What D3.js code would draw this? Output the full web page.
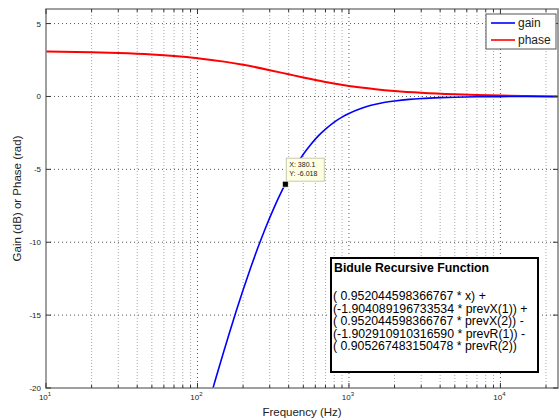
<!DOCTYPE html>
<html><head><meta charset="utf-8">
<script src="https://cdn.jsdelivr.net/npm/d3@7"></script>
<style>html,body{margin:0;padding:0;background:#fff;}svg{display:block;font-family:"Liberation Sans",Arial,sans-serif;}</style>
</head><body>
<svg id="c" width="560" height="419"></svg>
<script>
// Gain curve (dB)
const gainFreq = [120,125,130,140,150,160,180,200,225,250,280,320,360,380.1,400,450,500,560,630,710,800,900,1000,1200,1400,1700,2000,2500,3000,4000,5000,7000,10000,15000,24000];
const gainDb = [-20.85,-20.21,-19.59,-18.45,-17.41,-16.45,-14.74,-13.28,-11.72,-10.40,-9.07,-7.64,-6.50,-6.018,-5.59,-4.67,-3.96,-3.29,-2.69,-2.19,-1.76,-1.42,-1.17,-0.83,-0.61,-0.42,-0.31,-0.20,-0.14,-0.08,-0.05,-0.02,-0.01,0,0];
// Phase curve (rad)
const phaseFreq = [10,20,30,50,70,100,150,200,300,400,500,700,1000,1200,1500,2000,3000,5000,7000,10000,15000,24000];
const phaseRad = [3.089,3.036,2.984,2.880,2.777,2.627,2.390,2.173,1.805,1.520,1.299,0.994,0.725,0.612,0.495,0.374,0.249,0.146,0.101,0.065,0.033,0];
const xMajor = [10,100,1000,10000];
const xMajorExp = ["1","2","3","4"];
const yTicks = [-20,-15,-10,-5,0,5];
const seriesNames = ["gain","phase"];
const datatip = {x:380.1, y:-6.018, lx:"X: 380.1", ly:"Y: -6.018"};
const boxLines = ["( 0.952044598366767 * x) +","(-1.904089196733534 * prevX(1)) +","( 0.952044598366767 * prevX(2)) -","(-1.902910910316590 * prevR(1)) -","( 0.905267483150478 * prevR(2))"];
const boxTitle = "Bidule Recursive Function";

const svg = d3.select("#c");
const L=46,R=558,T=9,B=388;
const x = d3.scaleLog().domain([10,24000]).range([L,R]);
const y = d3.scaleLinear().domain([-20,6]).range([B,T]);

const minor=[];
for(let d=10; d<=10000; d*=10){ for(let k=2;k<=9;k++){ const v=d*k; if(v<=24000) minor.push(v);} }

const g = svg.append("g");
g.selectAll(".gm").data(minor).join("line")
 .attr("x1",d=>x(d)).attr("x2",d=>x(d)).attr("y1",T).attr("y2",B)
 .attr("stroke","#a8a8a8").attr("stroke-width",1).attr("stroke-dasharray","1,2");
g.selectAll(".gM").data(xMajor.slice(1)).join("line")
 .attr("x1",d=>x(d)).attr("x2",d=>x(d)).attr("y1",T).attr("y2",B)
 .attr("stroke","#555").attr("stroke-width",1).attr("stroke-dasharray","1,3");
g.selectAll(".gy").data(yTicks.slice(1)).join("line")
 .attr("x1",L).attr("x2",R).attr("y1",d=>y(d)).attr("y2",d=>y(d))
 .attr("stroke","#555").attr("stroke-width",1).attr("stroke-dasharray","1,3");

svg.append("clipPath").attr("id","cp").append("rect").attr("x",L).attr("y",T).attr("width",R-L).attr("height",B-T);

const line = d3.line().x(d=>x(d[0])).y(d=>y(d[1])).curve(d3.curveMonotoneX);
const lg = svg.append("g").attr("clip-path","url(#cp)");
lg.append("path").attr("d",line(phaseFreq.map((f,i)=>[f,phaseRad[i]])))
 .attr("fill","none").attr("stroke","#ff0000").attr("stroke-width",2);
lg.append("path").attr("d",line(gainFreq.map((f,i)=>[f,gainDb[i]])))
 .attr("fill","none").attr("stroke","#0000ff").attr("stroke-width",1.6);

svg.append("rect").attr("x",L).attr("y",T).attr("width",R-L).attr("height",B-T)
 .attr("fill","none").attr("stroke","#808080").attr("stroke-width",1.5);

const tk = svg.append("g").attr("stroke","#333").attr("stroke-width",1);
xMajor.forEach(v=>{ tk.append("line").attr("x1",x(v)).attr("x2",x(v)).attr("y1",B).attr("y2",B-5);
 tk.append("line").attr("x1",x(v)).attr("x2",x(v)).attr("y1",T).attr("y2",T+5);});
minor.forEach(v=>{ tk.append("line").attr("x1",x(v)).attr("x2",x(v)).attr("y1",B).attr("y2",B-3);
 tk.append("line").attr("x1",x(v)).attr("x2",x(v)).attr("y1",T).attr("y2",T+3);});
yTicks.forEach(v=>{ tk.append("line").attr("x1",L).attr("x2",L+5).attr("y1",y(v)).attr("y2",y(v));
 tk.append("line").attr("x1",R).attr("x2",R-5).attr("y1",y(v)).attr("y2",y(v));});

xMajor.forEach((v,i)=>{
  const t = svg.append("text").attr("x",x(v)-1).attr("y",400).attr("text-anchor","middle")
   .attr("font-size",8).attr("fill","#222");
  t.append("tspan").text("10");
  t.append("tspan").attr("dy",-4).attr("font-size",6).text(xMajorExp[i]);
});
yTicks.forEach(v=>{
  svg.append("text").attr("x",41).attr("y",y(v)+3).attr("text-anchor","end")
   .attr("font-size",8).attr("fill","#222").text(v);
});

svg.append("text").attr("x",(L+R)/2).attr("y",416).attr("text-anchor","middle")
 .attr("font-size",11.5).attr("fill","#222").text("Frequency (Hz)");
svg.append("text").attr("transform",`translate(21,${(T+B)/2}) rotate(-90)`).attr("text-anchor","middle")
 .attr("font-size",11.5).attr("fill","#222").text("Gain (dB) or Phase (rad)");

const leg = svg.append("g");
leg.append("rect").attr("x",486).attr("y",14).attr("width",70).attr("height",35)
 .attr("fill","#fff").attr("stroke","#555").attr("stroke-width",1);
const colors=["#0000ff","#ff0000"];
seriesNames.forEach((n,i)=>{
  const yy = 23+i*17;
  leg.append("line").attr("x1",491).attr("x2",515).attr("y1",yy).attr("y2",yy).attr("stroke",colors[i]).attr("stroke-width",1.6);
  leg.append("text").attr("x",518).attr("y",yy+4).attr("font-size",12).attr("fill","#222").text(n);
});

const dx=x(datatip.x), dy=y(datatip.y);
svg.append("rect").attr("x",dx+1).attr("y",dy-26).attr("width",38).attr("height",23)
 .attr("fill","#ffffe1").attr("stroke","#c8c8b0").attr("stroke-width",1);
svg.append("text").attr("x",dx+4).attr("y",dy-17).attr("font-size",7).attr("fill","#222").text(datatip.lx);
svg.append("text").attr("x",dx+4).attr("y",dy-8).attr("font-size",7).attr("fill","#222").text(datatip.ly);
svg.append("rect").attr("x",dx-3).attr("y",dy-3).attr("width",6).attr("height",6).attr("fill","#000").attr("stroke","#ffffe1").attr("stroke-width",0.8);

svg.append("rect").attr("x",331).attr("y",258).attr("width",207).attr("height",114)
 .attr("fill","#fff").attr("stroke","#000").attr("stroke-width",2);
svg.append("text").attr("x",334).attr("y",271.5).attr("font-size",12.3).attr("font-weight","bold").attr("fill","#000").text(boxTitle);
boxLines.forEach((s,i)=>{
  svg.append("text").attr("x",333).attr("y",300+i*12.6).attr("font-size",12.3).attr("fill","#000").text(s);
});
</script>
</body></html>
